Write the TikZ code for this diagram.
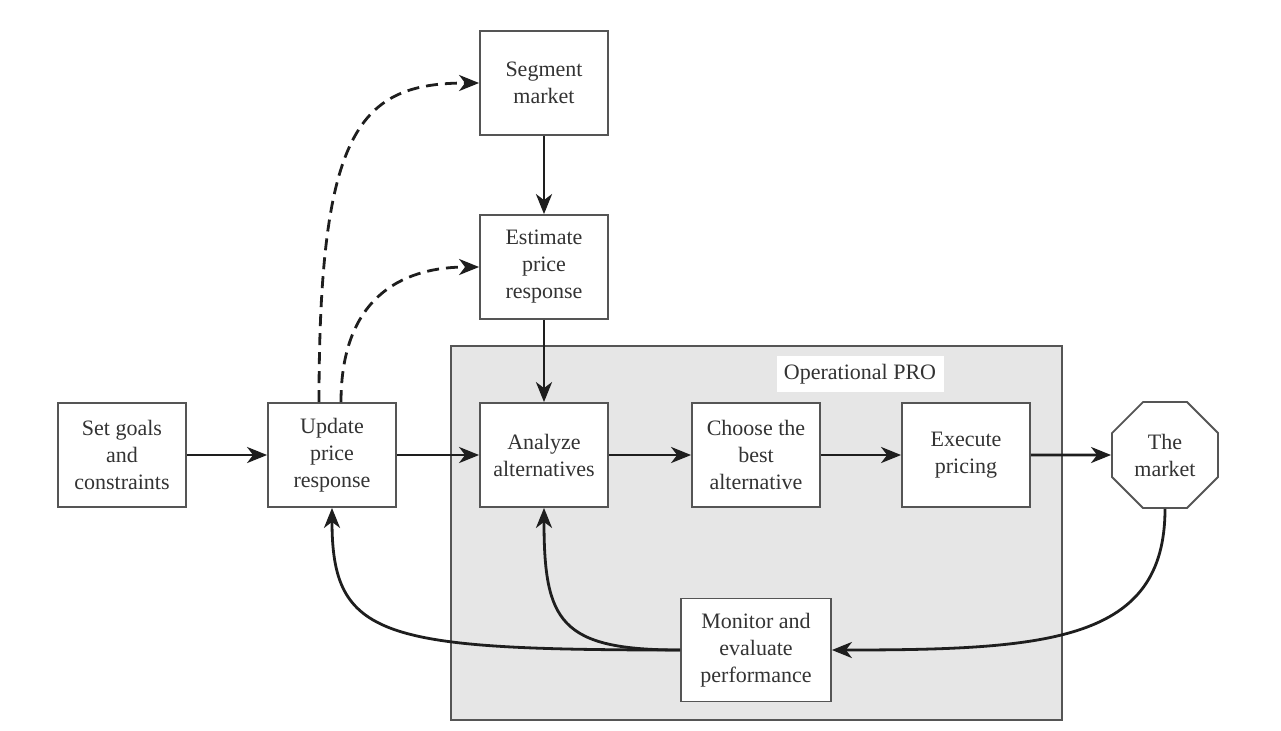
\documentclass[tikz,border=0pt]{standalone}
\usepackage{fontspec}
\setmainfont{Liberation Serif}
\usetikzlibrary{arrows.meta,shapes.geometric}
\definecolor{regiongray}{HTML}{E6E6E6}
\definecolor{framegray}{HTML}{555555}
\definecolor{inkgray}{HTML}{1E1E1E}
\tikzset{
  box/.style={draw=framegray, line width=0.9pt, fill=white, align=center,
    minimum width=64pt, minimum height=52pt, inner sep=2pt,
    font=\fontsize{11}{13.5}\selectfont, text=black!80},
  marketbox/.style={box, regular polygon, regular polygon sides=8,
    minimum size=57.4pt, inner sep=0pt},
  oplabel/.style={fill=white, minimum width=83.5pt, minimum height=18pt,
    font=\fontsize{11}{13.5}\selectfont, text=black!80},
  flow/.style={draw=inkgray, line width=1.4pt,
    -{Stealth[length=10pt,width=8pt,inset=3pt]}},
  update flow/.style={flow, dash pattern=on 6pt off 3.5pt}
}
\begin{document}
\begin{tikzpicture}[x=0.5pt,y=-0.5pt]
      \useasboundingbox (0,0) rectangle (1281,730);
      % operational region
      \draw[draw=framegray, line width=0.9pt, fill=regiongray] (451,346) rectangle (1062,720);
      \draw
        (122,455) node[box] (goals){Set goals\\and\\constraints}
        (332,455) node[box] (update){Update\\price\\response}
        (544,83) node[box] (segment){Segment\\market}
        (544,267) node[box] (estimate){Estimate\\price\\response}
        (860,374) node[oplabel] (oppro){Operational PRO}
        (544,455) node[box] (analyze){Analyze\\alternatives}
        (756,455) node[box] (choose){Choose the\\best\\alternative}
        (966,455) node[box] (execute){Execute\\pricing}
        (1165,455) node[marketbox] (market){The\\market}
        (756,650) node[box, minimum width=75pt, minimum height=51.5pt] (monitor){Monitor and\\evaluate\\performance};
      \begin{scope}[flow]
        \draw (goals) to (update);
        \draw (update) to (analyze);
        \draw (analyze) to (choose);
        \draw (choose) to (execute);
        \draw (execute) to (market);
        \draw (segment) to (estimate);
        \draw (estimate) to (analyze);
        \draw (market.south) to[out=-90, in=0, out distance=66pt, in distance=109pt] (monitor.east);
        \draw (monitor.west) to[out=180, in=-90, out distance=60pt, in distance=57pt] (analyze.south);
        \draw (monitor.west) to[out=180, in=-90, out distance=150pt, in distance=65pt] (update.south);
      \end{scope}
      \begin{scope}[update flow]
        \draw ([xshift=-6.5pt]update.north) to[out=90, in=180, out distance=136pt, in distance=60pt] (segment.west);
        \draw ([xshift=4.5pt]update.north) to[out=90, in=180, out distance=51pt, in distance=40pt] (estimate.west);
      \end{scope}
    \end{tikzpicture}
\end{document}
